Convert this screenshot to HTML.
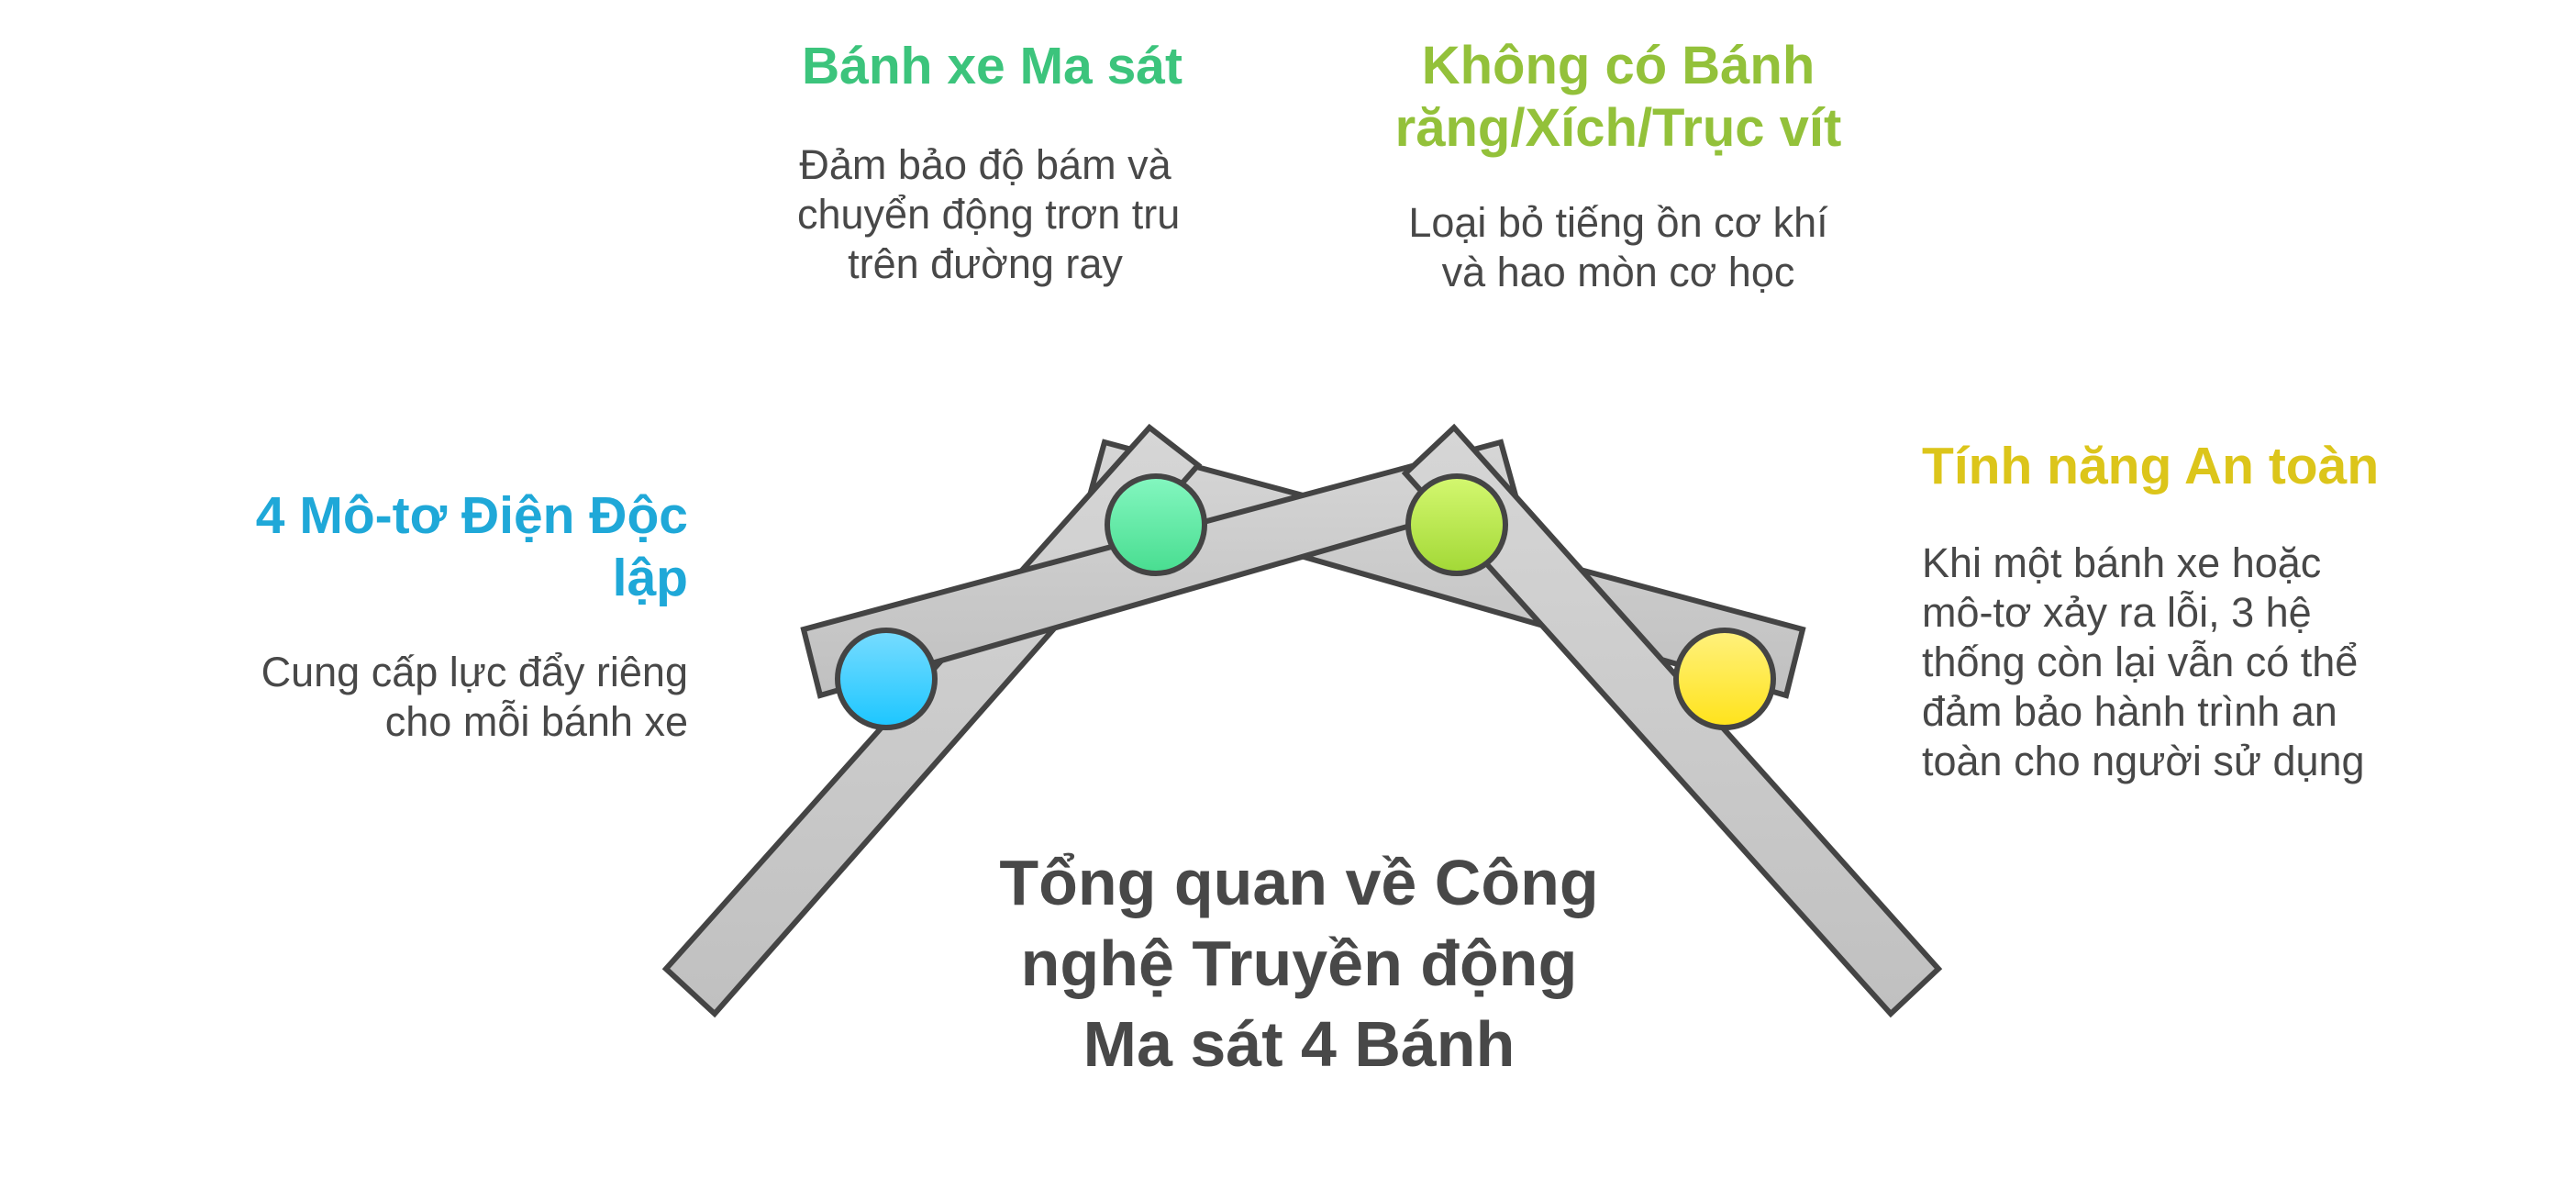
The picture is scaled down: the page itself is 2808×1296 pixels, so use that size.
<!DOCTYPE html>
<html><head><meta charset="utf-8"><style>
body{margin:0;width:2808px;height:1296px;background:#fff;position:relative;overflow:hidden;font-family:"Liberation Sans",sans-serif}
.t{position:absolute;white-space:nowrap}
.h{font-weight:bold;font-size:57px;line-height:68px}
.b{font-size:45px;line-height:54px;color:#484848}
</style></head><body>
<svg width="2808" height="1296" style="position:absolute;left:0;top:0">
<defs>
<linearGradient id="bar" x1="0" y1="0" x2="0" y2="1"><stop offset="0" stop-color="#d6d6d6"/><stop offset="1" stop-color="#c0c0c0"/></linearGradient>
<linearGradient id="g1" x1="0" y1="0" x2="0" y2="1"><stop offset="0" stop-color="#84f7c0"/><stop offset="1" stop-color="#48dd90"/></linearGradient>
<linearGradient id="g2" x1="0" y1="0" x2="0" y2="1"><stop offset="0" stop-color="#78dcff"/><stop offset="1" stop-color="#1cc6ff"/></linearGradient>
<linearGradient id="g3" x1="0" y1="0" x2="0" y2="1"><stop offset="0" stop-color="#d4f870"/><stop offset="1" stop-color="#a2d836"/></linearGradient>
<linearGradient id="g4" x1="0" y1="0" x2="0" y2="1"><stop offset="0" stop-color="#fff17e"/><stop offset="1" stop-color="#ffe31a"/></linearGradient>
</defs>
<g stroke="#444" stroke-width="6" stroke-linejoin="miter" fill="url(#bar)">
<polygon points="1204,482 1965,686 1947,758 1188,540"/>
<polygon points="726,1056 1253,466 1306,507 779,1105"/>
<polygon points="1636,482 876,686 894,758 1652,540"/>
<polygon points="2113,1056 1585,466 1532,516 2061,1105"/>
</g>
<g stroke="#444" stroke-width="6">
<circle cx="1260" cy="572" r="53" fill="url(#g1)"/>
<circle cx="966" cy="740" r="53" fill="url(#g2)"/>
<circle cx="1588" cy="572" r="53" fill="url(#g3)"/>
<circle cx="1880" cy="740" r="53" fill="url(#g4)"/>
</g>
</svg>
<div class="t h" style="left:874px;width:400px;text-align:center;top:38px;color:#3cc47c">Bánh xe Ma sát</div>
<div class="t b" style="left:869px;width:410px;text-align:center;top:153px">Đảm bảo độ bám và<br>chuyển động trơn tru<br>trên đường ray</div>
<div class="t h" style="left:1464px;width:600px;text-align:center;top:38px;color:#93c13a;font-size:58px">Không có Bánh<br>răng/Xích/Trục vít</div>
<div class="t b" style="left:1464px;width:600px;text-align:center;top:216px">Loại bỏ tiếng ồn cơ khí<br>và hao mòn cơ học</div>
<div class="t h" style="left:150px;width:600px;text-align:right;top:528px;color:#1fa8d8">4 Mô-tơ Điện Độc<br>lập</div>
<div class="t b" style="left:150px;width:600px;text-align:right;top:706px">Cung cấp lực đẩy riêng<br>cho mỗi bánh xe</div>
<div class="t h" style="left:2095px;top:474px;color:#dcc51a">Tính năng An toàn</div>
<div class="t b" style="left:2095px;top:587px">Khi một bánh xe hoặc<br>mô-tơ xảy ra lỗi, 3 hệ<br>thống còn lại vẫn có thể<br>đảm bảo hành trình an<br>toàn cho người sử dụng</div>
<div class="t" style="left:1016px;width:800px;text-align:center;top:918px;font-weight:bold;font-size:70px;line-height:88px;color:#484848">Tổng quan về Công<br>nghệ Truyền động<br>Ma sát 4 Bánh</div>
</body></html>
